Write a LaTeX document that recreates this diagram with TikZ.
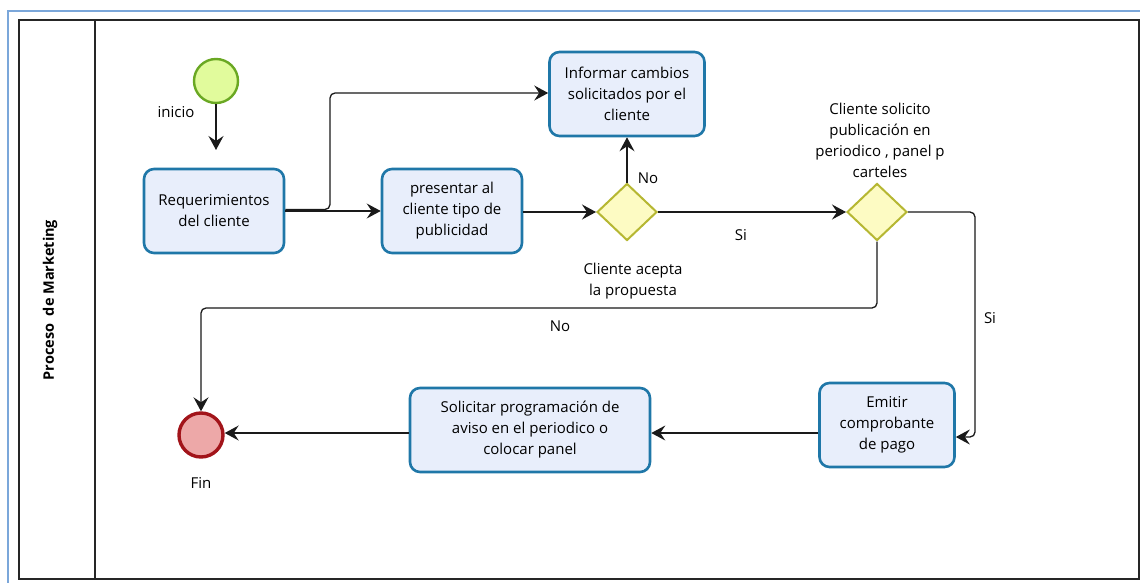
\documentclass[tikz,border=0pt]{standalone}
\usepackage{fontspec}
\setmainfont{Open Sans}
\usetikzlibrary{arrows.meta,shapes.geometric}

\definecolor{taskfill}{HTML}{E8EEFB}
\definecolor{taskline}{HTML}{1F77A8}
\definecolor{startfill}{HTML}{E1FB9C}
\definecolor{startline}{HTML}{6AA823}
\definecolor{gatefill}{HTML}{FDFBC3}
\definecolor{gateline}{HTML}{B6B732}
\definecolor{endfill}{HTML}{EDA8A8}
\definecolor{endline}{HTML}{A2141A}
\definecolor{frameblue}{HTML}{7BA7DA}
\definecolor{wire}{HTML}{1A1A1A}

\tikzset{
  txt/.style={font=\fontsize{15}{21}\selectfont, align=center, inner sep=0pt},
  task/.style={txt, draw=taskline, fill=taskfill, line width=2.6pt,
    rounded corners=10pt, minimum width=140pt, minimum height=84pt},
  gate/.style={diamond, draw=gateline, fill=gatefill, line width=2pt,
    minimum width=60pt, minimum height=57pt, inner sep=0pt},
  startev/.style={circle, draw=startline, fill=startfill, line width=2.4pt,
    minimum size=44pt, inner sep=0pt},
  endev/.style={circle, draw=endline, fill=endfill, line width=3.4pt,
    minimum size=44pt, inner sep=0pt},
  flow/.style={draw=wire, line width=1.3pt, rounded corners=5pt,
    -{Stealth[length=14pt, width=15pt, inset=5pt]}},
  lbl/.style={txt}
}

\begin{document}
\begin{tikzpicture}[x=1pt, y=-1pt]
  \useasboundingbox (0,0) rectangle (1140,583);
  \fill[white] (0,0) rectangle (1140,583);

  % outer window frame
  \draw[frameblue, line width=1.5pt] (8,583) -- (8,11) -- (1140,11);

  % pool and lane header
  \draw[black!85, line width=1.4pt] (19,20) rectangle (1139,579);
  \draw[black!85, line width=1.2pt] (95,20) -- (95,579);
  \node[rotate=90, font=\bfseries\fontsize{14.5}{16}\selectfont] (lane) at (50,300)
    {Proceso\ \ de Marketing};

  % events
  \node[startev] (ini) at (216,81) {};
  \node[lbl] (inilbl) at (176,112) {inicio};
  \node[endev] (fin) at (201,435) {};
  \node[lbl] (finlbl) at (201,483) {Fin};

  % tasks
  \node[task] (req) at (214,211) {Requerimientos\\del cliente};
  \node[task] (pres) at (452,211) {presentar al\\cliente tipo de\\publicidad};
  \node[task, minimum width=155pt] (inf) at (627,94) {Informar cambios\\solicitados por el\\cliente};
  \node[task, minimum width=135pt] (emit) at (887,425) {Emitir\\comprobante\\de pago};
  \node[task, minimum width=240pt] (sol) at (530,430)
    {Solicitar programación de\\aviso en el periodico o\\colocar panel};

  % gateways
  \node[gate] (g1) at (627,212) {};
  \node[gate] (g2) at (877,212) {};
  \node[lbl] (g1lbl) at (633,281) {Cliente acepta\\la propuesta};
  \node[lbl] (g2lbl) at (880,140)
    {Cliente solicito\\publicación en\\periodico , panel p\\carteles};

  % sequence flows
  \draw[flow] (ini) -- (216,150);
  \draw[flow] (req.east |- pres) -- (pres.west);
  \draw[flow] ([yshift=1.5pt]req.east) -- (330,209.5) -- (330,93) -- (inf.west |- 0,93);
  \draw[flow] (pres.east |- g1) -- (g1.west);
  \draw[flow] (g1.north) -- (inf.south);
  \node[lbl] (no1) at (648,178) {No};
  \draw[flow] (g1.east) -- (g2.west);
  \node[lbl] (si1) at (741,235) {Si};
  \draw[flow] (g2.east) -- (975,212) -- (975,437) -- (emit.east |- 0,437);
  \node[lbl] (si2) at (990,318) {Si};
  \draw[flow] (g2.south) -- (877,308) -- (201,308) -- (fin.north);
  \node[lbl] (no2) at (560,326) {No};
  \draw[flow] (emit.west |- 0,433) -- (sol.east |- 0,433);
  \draw[flow] (sol.west |- 0,433) -- (fin.east |- 0,433);
\end{tikzpicture}
\end{document}
